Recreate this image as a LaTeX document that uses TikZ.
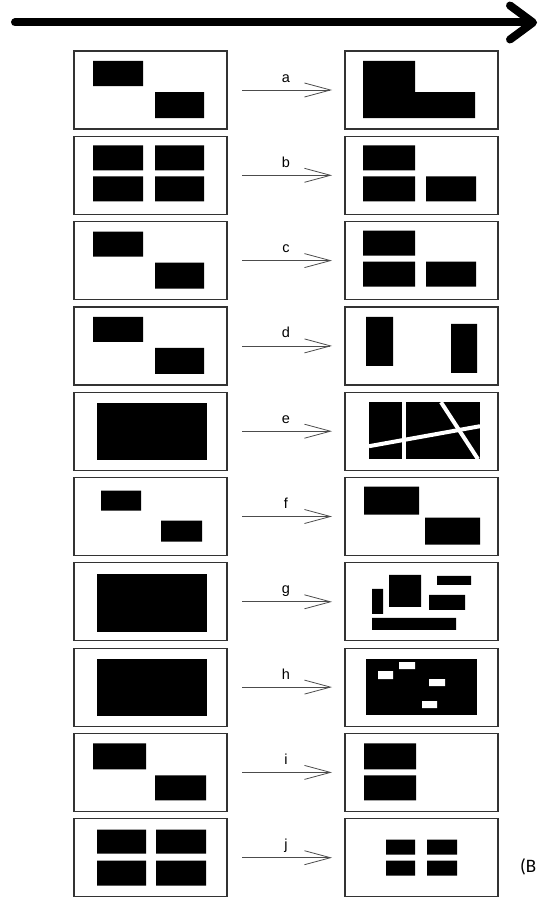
\documentclass[tikz,border=0pt]{standalone}
\usepackage{fontspec}
\setmainfont{Liberation Sans}
\newfontfamily\capfont{Carlito}
\usetikzlibrary{arrows.meta, positioning}

\begin{document}
\begin{tikzpicture}[x=1pt, y=-1pt, node distance=7.3pt and 118pt,
  frame/.style={draw=black!80, line width=1.2pt, minimum width=153pt, minimum height=78pt,
                inner sep=0pt, outer sep=0pt},
  cut/.style={draw=white, line width=4pt},
  arrow/.style={-{Straight Barb[length=26pt, width=14pt]}, black!70, line width=0.8pt,
                shorten <=15pt, shorten >=13pt},
  bigarrow/.style={-{Straight Barb[length=23pt, width=34pt, round]}, line width=8pt, line cap=round},
  lbl/.style={midway, anchor=base, yshift=8pt, inner sep=0pt, font=\fontsize{14.5}{14.5}\selectfont, black}]

  \useasboundingbox (0,0) rectangle (538,899);

  % time arrow
  \coordinate (ts) at (15,22.5);
  \coordinate (te) at (537,22.5);
  \draw[bigarrow] (ts) -- (te);

  % before / after frames
  \node[frame] (la) at (150.5,90) {};
  \node[frame, right=of la] (ra) {};
  \node[frame, below=of la] (lb) {};
  \node[frame, right=of lb] (rb) {};
  \node[frame, below=of lb] (lc) {};
  \node[frame, right=of lc] (rc) {};
  \node[frame, below=of lc] (ld) {};
  \node[frame, right=of ld] (rd) {};
  \node[frame, below=of ld] (le) {};
  \node[frame, right=of le] (re) {};
  \node[frame, below=of le] (lf) {};
  \node[frame, right=of lf] (rf) {};
  \node[frame, below=of lf] (lg) {};
  \node[frame, right=of lg] (rg) {};
  \node[frame, below=of lg] (lh) {};
  \node[frame, right=of lh] (rh) {};
  \node[frame, below=of lh] (li) {};
  \node[frame, right=of li] (ri) {};
  \node[frame, below=of li] (lj) {};
  \node[frame, right=of lj] (rj) {};

  % a
  \fill[shift={(la.north west)}] (19,10) rectangle (69,35) (81,41) rectangle (130,67);
  \fill[shift={(ra.north west)}] (18,10) -- (70,10) -- (70,41) -- (130,41) -- (130,67) -- (18,67) -- cycle;
  % b
  \fill[shift={(lb.north west)}] (19,9) rectangle (69,34) (81,9) rectangle (130,34)
    (19,40) rectangle (69,65) (81,40) rectangle (130,65);
  \fill[shift={(rb.north west)}] (18,9) rectangle (70,34) (18,40) rectangle (70,65) (81,40) rectangle (131,65);
  % c
  \fill[shift={(lc.north west)}] (19,10) rectangle (69,35) (81,41) rectangle (130,67);
  \fill[shift={(rc.north west)}] (18,9) rectangle (70,34) (18,40) rectangle (70,65) (81,40) rectangle (131,65);
  % d
  \fill[shift={(ld.north west)}] (19,10) rectangle (69,35) (81,41) rectangle (130,67);
  \fill[shift={(rd.north west)}] (21,10) rectangle (48,59) (106,17) rectangle (132,66);
  % e
  \fill[shift={(le.north west)}] (23,11) rectangle (133,68);
  \begin{scope}[shift={(re.north west)}]
    \fill (24,10) rectangle (135,67);
    \draw[cut] (59,10) -- (59,67);
    \draw[cut] (24,54) -- (135,34);
    \draw[cut] (96,10) -- (133,67);
  \end{scope}
  % f
  \fill[shift={(lf.north west)}] (27,13) rectangle (67,33) (87,43) rectangle (128,64);
  \fill[shift={(rf.north west)}] (19,9) rectangle (74,37) (80,40) rectangle (135,67);
  % g
  \fill[shift={(lg.north west)}] (23,11) rectangle (133,69);
  \fill[shift={(rg.north west)}] (27,26) rectangle (38,51) (44,12) rectangle (76,44)
    (92,13) rectangle (126,22) (84,32) rectangle (120,47) (27,55) rectangle (111,67);
  % h
  \fill[shift={(lh.north west)}] (23,11) rectangle (133,68);
  \begin{scope}[shift={(rh.north west)}]
    \fill (21,11) rectangle (132,67);
    \fill[white] (33,23) rectangle (48,31) (54,14) rectangle (70,21)
      (84,31) rectangle (100,38) (77,53) rectangle (92,60);
  \end{scope}
  % i
  \fill[shift={(li.north west)}] (19,10) rectangle (72,36) (81,42) rectangle (132,67);
  \fill[shift={(ri.north west)}] (19,10) rectangle (71,36) (19,42) rectangle (71,67);
  % j
  \fill[shift={(lj.north west)}] (23,11) rectangle (72,35) (82,11) rectangle (132,35)
    (23,42) rectangle (72,67) (82,42) rectangle (132,67);
  \fill[shift={(rj.north west)}] (41,21) rectangle (70,36) (82,21) rectangle (112,36)
    (41,42) rectangle (70,57) (82,42) rectangle (112,57);

  \draw[arrow] (la) -- (ra) node[lbl] {a};
  \draw[arrow] (lb) -- (rb) node[lbl] {b};
  \draw[arrow] (lc) -- (rc) node[lbl] {c};
  \draw[arrow] (ld) -- (rd) node[lbl] {d};
  \draw[arrow] (le) -- (re) node[lbl] {e};
  \draw[arrow] (lf) -- (rf) node[lbl] {f};
  \draw[arrow] (lg) -- (rg) node[lbl] {g};
  \draw[arrow] (lh) -- (rh) node[lbl] {h};
  \draw[arrow] (li) -- (ri) node[lbl] {i};
  \draw[arrow] (lj) -- (rj) node[lbl] {j};

  \node[anchor=base west, inner sep=0pt, font=\capfont\fontsize{19}{19}\selectfont] (tag) at (520,872) {(B};
\end{tikzpicture}
\end{document}
